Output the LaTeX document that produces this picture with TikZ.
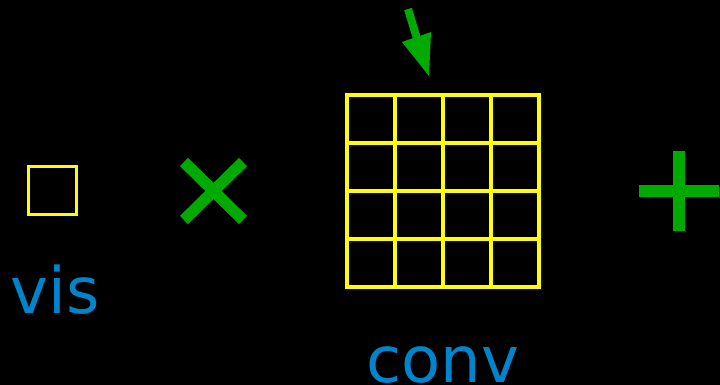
\documentclass[tikz,border=0pt]{standalone}
\usepackage{fontspec}
\setmainfont{DejaVu Sans}
\definecolor{ygrid}{RGB}{255,255,0}
\definecolor{gmark}{RGB}{0,170,0}
\definecolor{blab}{RGB}{0,133,204}
\begin{document}
\begin{tikzpicture}[x=1pt,y=-1pt,
  gridline/.style={draw=ygrid,line width=3.2pt},
  opsign/.style={draw=gmark,line width=11.5pt},
  lbl/.style={text=blab,font=\fontsize{64}{64}\selectfont,anchor=base,inner sep=0pt}]
\fill[black] (0,0) rectangle (720,385);
\useasboundingbox (0,0) rectangle (720,385);
% small square
\draw[gridline] (28.5,166.5) rectangle (76.5,214.5);
\node[lbl] (vis) at (55,313) {vis};
% times sign
\coordinate (t1) at (184,162);
\coordinate (t2) at (243,220);
\coordinate (t3) at (243,162);
\coordinate (t4) at (184,220);
\draw[opsign] (t1) -- (t2);
\draw[opsign] (t3) -- (t4);
% grid
\foreach \i in {0,...,4}{
  \draw[gridline,line cap=rect] (347+48*\i,95) -- (347+48*\i,287);
  \draw[gridline,line cap=rect] (347,95+48*\i) -- (539,95+48*\i);
}
\node[lbl] (conv) at (443,382) {conv};
% arrow
\fill[gmark] (404.2,10.2) -- (411.8,7.8) -- (420.3,35.8) -- (431,32) -- (429,76) -- (402,42) -- (412.7,38.2) -- cycle;
% plus sign
\coordinate (p1) at (679,151);
\coordinate (p2) at (679,231);
\coordinate (p3) at (639,191);
\coordinate (p4) at (719,191);
\draw[opsign,line width=12pt] (p1) -- (p2);
\draw[opsign,line width=12pt] (p3) -- (p4);
\end{tikzpicture}
\end{document}
